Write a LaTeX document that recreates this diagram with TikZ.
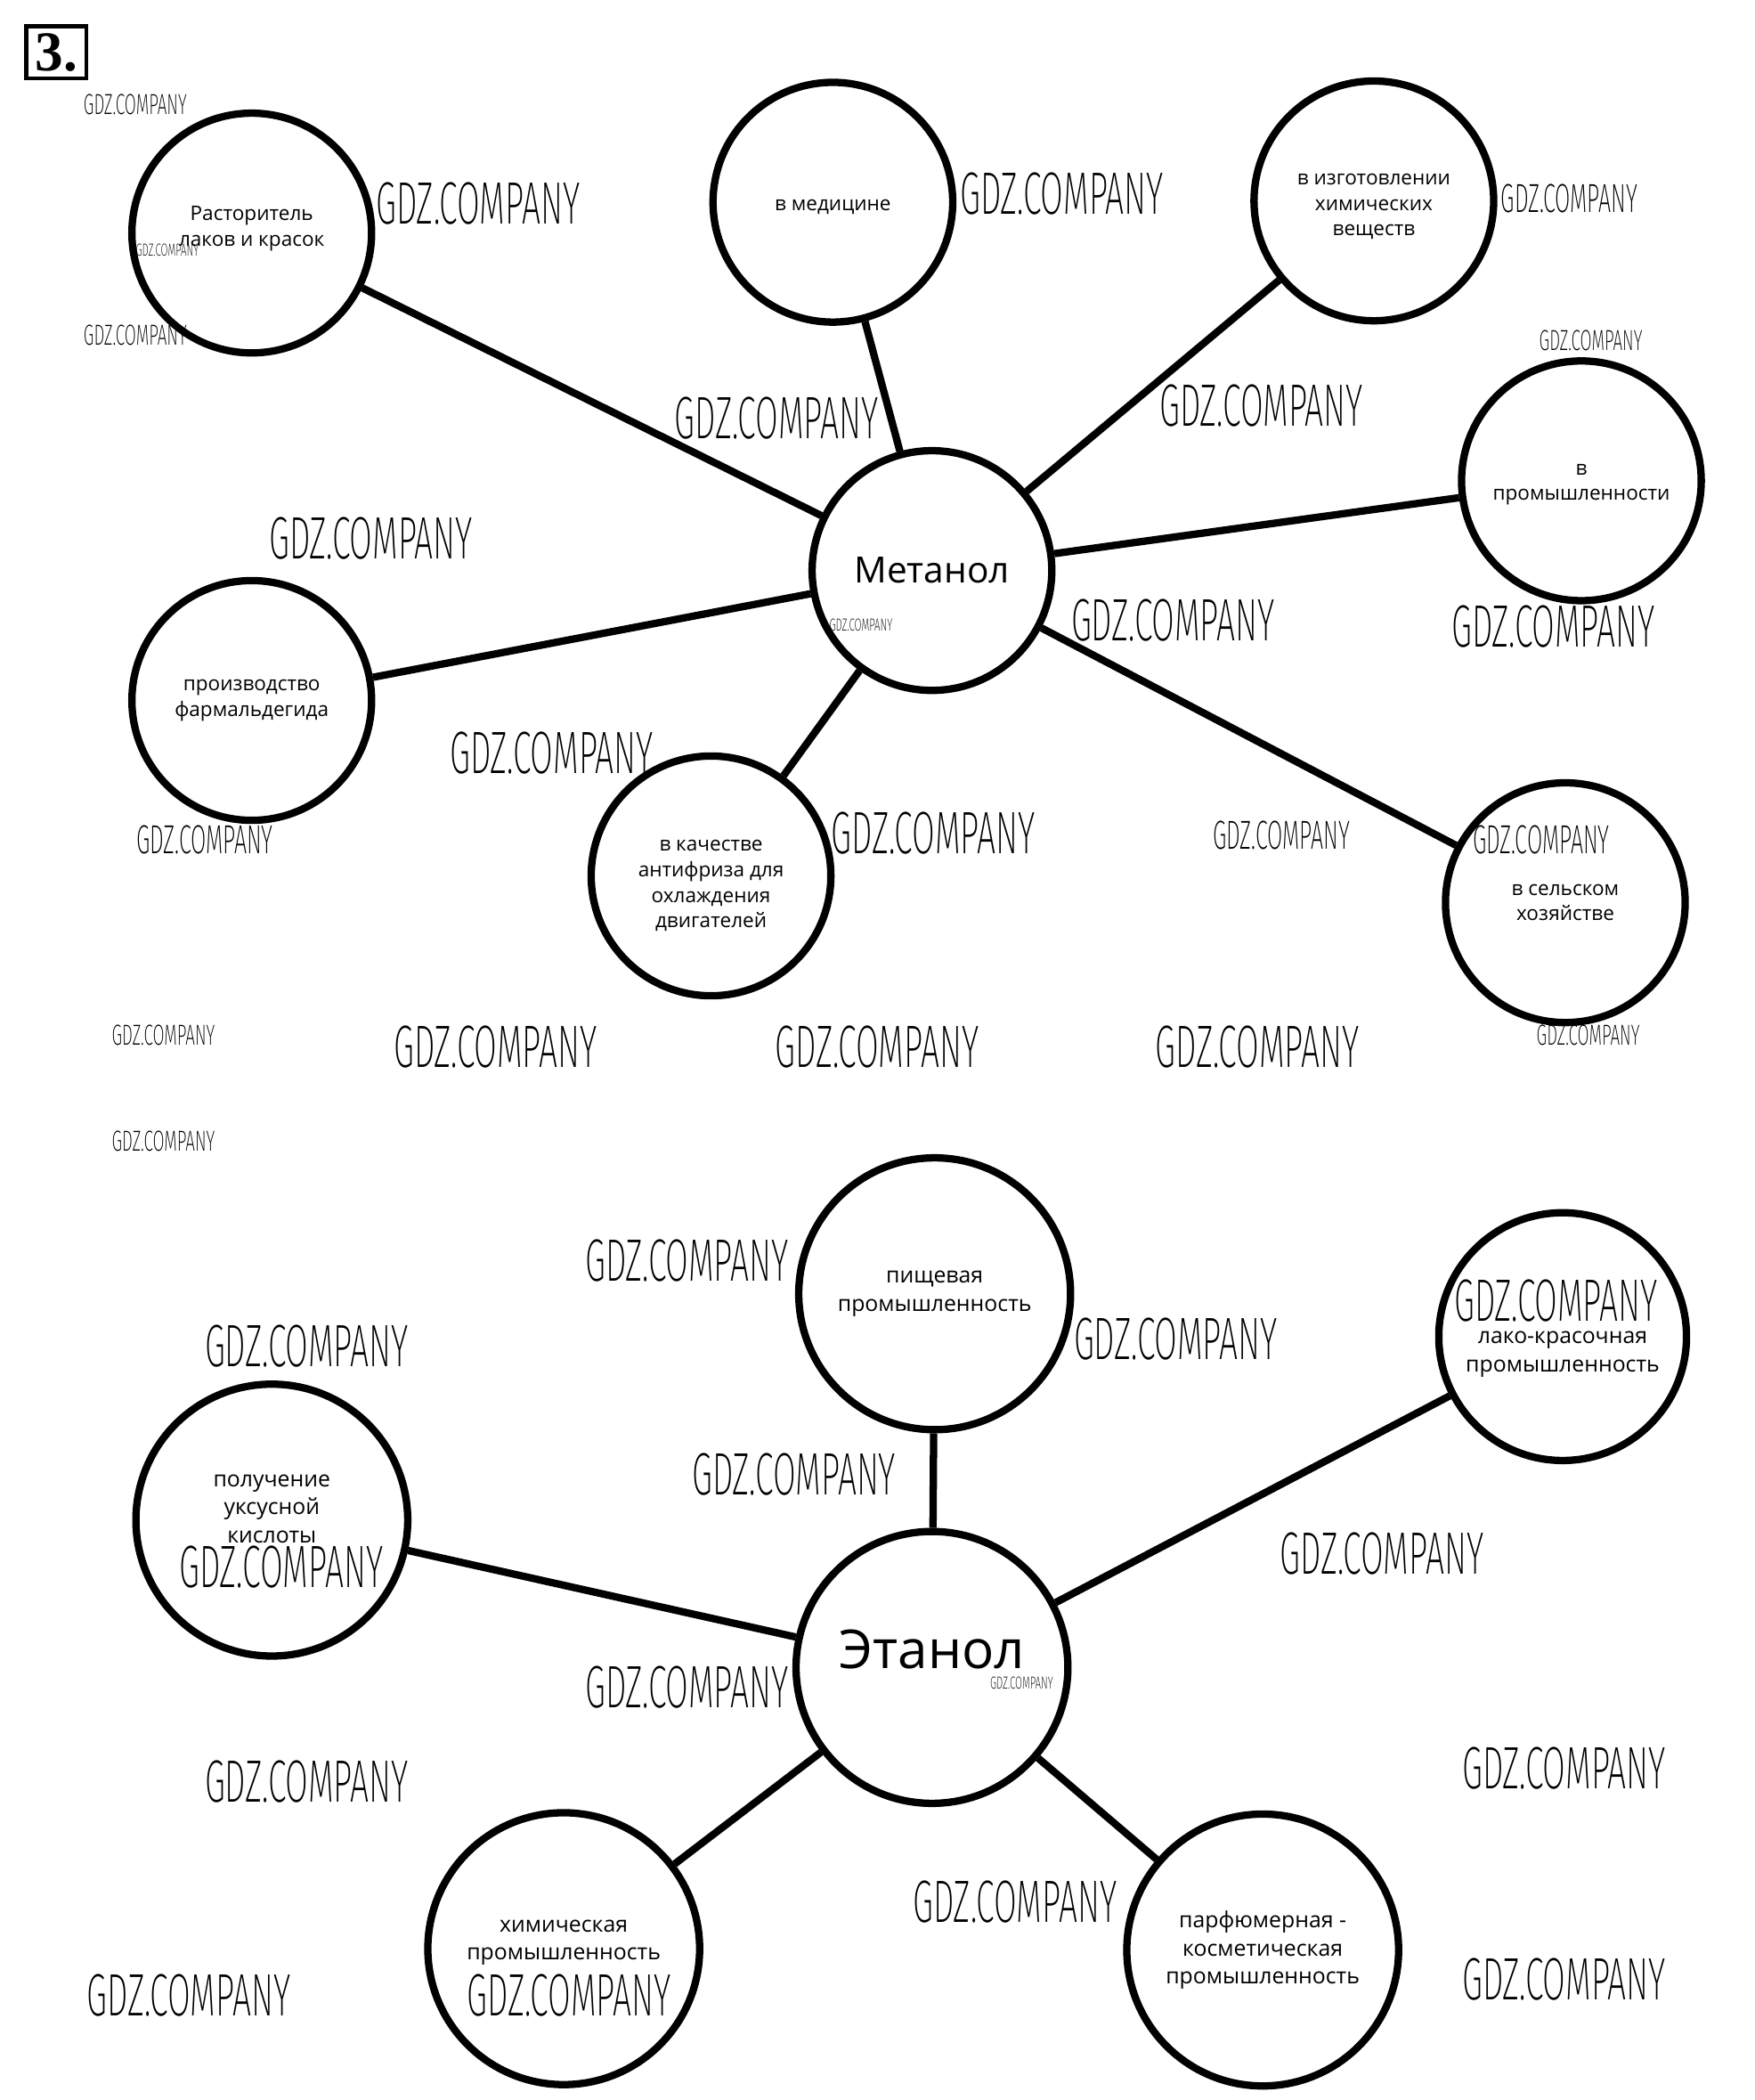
\documentclass[tikz,border=0pt]{standalone}
\usepackage{fontspec}
\setmainfont{Open Sans}
\newfontfamily\wmfont{Fira Sans ExtraLight}
\newfontfamily\numfont{Liberation Serif}
\usetikzlibrary{positioning}
\newcommand{\gdzbig}{\resizebox{152pt}{31pt}{\wmfont GDZ.COMPANY}}
\newcommand{\gdzmed}{\resizebox{102pt}{21pt}{\wmfont GDZ.COMPANY}}
\newcommand{\gdzsmall}{\resizebox{77pt}{15pt}{\wmfont GDZ.COMPANY}}
\newcommand{\gdztiny}{\resizebox{47pt}{9pt}{\wmfont GDZ.COMPANY}}
\newcommand{\shifted}[2]{\raisebox{#1}[0pt][0pt]{\begin{tabular}{@{}c@{}}#2\end{tabular}}}
\tikzset{use/.style={draw,circle,line width=5.5pt,minimum size=179pt,inner sep=0pt,align=center,font=\fontsize{15}{19}\selectfont},bigu/.style={use,minimum size=203pt,font=\fontsize{16.5}{21}\selectfont},hub/.style={use,font=\fontsize{27}{32}\selectfont},bighub/.style={bigu,font=\fontsize{40}{46}\selectfont},link/.style={line width=5.5pt},wm/.style={inner sep=0pt}}

\begin{document}
\begin{tikzpicture}[x=1pt,y=-1pt]
\useasboundingbox (0,0) rectangle (1310,1568);
\node[draw,line width=3pt,minimum width=45pt,minimum height=39pt,inner sep=0pt,font=\numfont\bfseries\fontsize{42}{42}\selectfont] (num) at (42,39) {3.};
\node[hub] (metanol) at (696,426) {Метанол};
\node[use] (rastv) at (188,174) {\shifted{0pt}{Расторитель\\лаков и красок}};
\node[use] (medic) at (622,151) {\shifted{-6pt}{в медицине}};
\node[use] (himv) at (1026,150) {\shifted{-7pt}{в изготовлении\\химических\\веществ}};
\node[use] (prom) at (1181,359) {\shifted{-5pt}{в\\промышленности}};
\node[use] (farm) at (188,523) {производство\\фармальдегида};
\node[use] (antifr) at (531,654) {\shifted{-10pt}{в качестве\\антифриза для\\охлаждения\\двигателей}};
\node[use] (selhoz) at (1169,674) {в сельском\\хозяйстве};
\draw[link] (metanol)--(rastv);
\draw[link] (metanol)--(medic);
\draw[link] (metanol)--(himv);
\draw[link] (metanol)--(prom);
\draw[link] (metanol)--(farm);
\draw[link] (metanol)--(antifr);
\draw[link] (metanol)--(selhoz);
\node[bighub] (etanol) at (696,1245) {\raisebox{-1pt}[0pt][0pt]{Этанол}};
\node[bigu] (pishch) at (698,966) {пищевая\\промышленность};
\node[bigu,minimum size=185pt] (lakokr) at (1167,998) {\shifted{-16pt}{лако-красочная\\промышленность}};
\node[bigu] (uksus) at (203,1135) {\shifted{4pt}{получение\\уксусной\\кислоты}};
\node[bigu] (himprom) at (421,1455) {\shifted{2pt}{химическая\\промышленность}};
\node[bigu] (parfum) at (943,1456) {парфюмерная -\\косметическая\\промышленность};
\draw[link] (etanol)--(pishch);
\draw[link] (etanol)--(lakokr);
\draw[link] (etanol)--(uksus);
\draw[link] (etanol)--(himprom);
\draw[link] (etanol)--(parfum);
\foreach \px/\py/\sz [count=\i] in {101/78/small,357/152/big,125/187/tiny,101/250/small,793/145/big,1172/148/med,580/312/big,1188/254/small,942/303/big,277/402/big,643/467/tiny,876/463/big,1160/468/big,412/562/big,697/622/big,153/627/med,957/624/med,1151/627/med,122/773/small,370/782/big,655/782/big,939/782/big,1186/773/small,122/852/small,513/941/big,878/1000/big,1162/971/big,229/1005/big,593/1101/big,210/1170/big,1032/1160/big,513/1260/big,763/1257/tiny,229/1330/big,1168/1320/big,758/1420/big,141/1490/big,425/1490/big,1168/1478/big}
  \node[wm] (wm\i) at (\px,\py) {\csname gdz\sz\endcsname};
\end{tikzpicture}
\end{document}
